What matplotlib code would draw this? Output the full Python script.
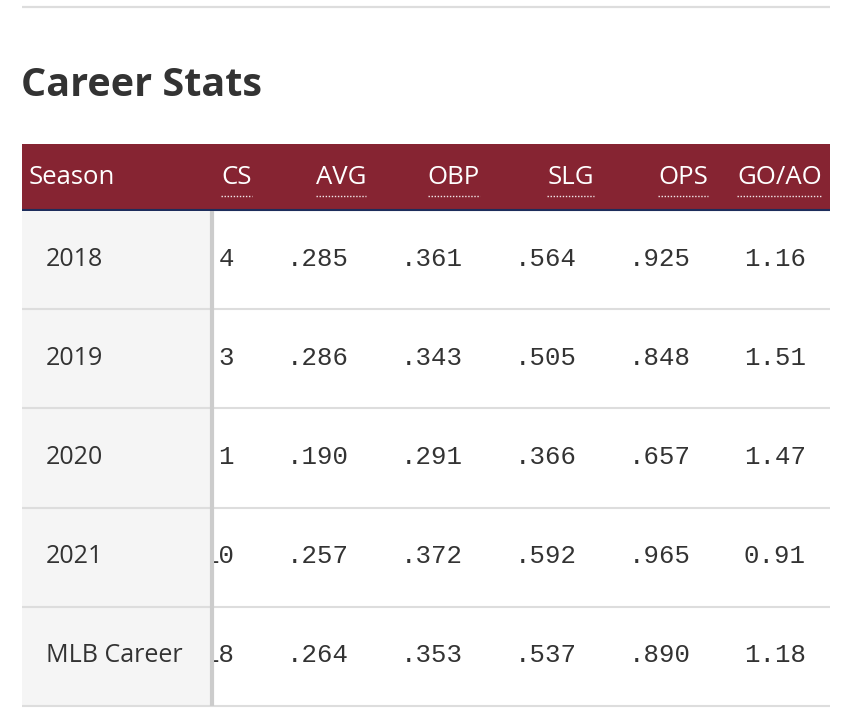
import matplotlib
matplotlib.use("Agg")
import matplotlib.pyplot as plt
from matplotlib.patches import Rectangle

title = "Career Stats"
columns = ["Season", "CS", "AVG", "OBP", "SLG", "OPS", "GO/AO"]
seasons = ["2018", "2019", "2020", "2021", "MLB Career"]
cs = ["4", "3", "1", "10", "18"]
avg = [".285", ".286", ".190", ".257", ".264"]
obp = [".361", ".343", ".291", ".372", ".353"]
slg = [".564", ".505", ".366", ".592", ".537"]
ops = [".925", ".848", ".657", ".965", ".890"]
goao = ["1.16", "1.51", "1.47", "0.91", "1.18"]

W, H = 850, 724
fig = plt.figure(figsize=(W / 100, H / 100), dpi=100)
ax = fig.add_axes([0, 0, 1, 1])
ax.set_xlim(0, W)
ax.set_ylim(H, 0)
ax.axis("off")

left, right = 22, 830
header_top, header_bot = 144, 210
row_h = 99.2
first_col_right = 211
text_col = "#333333"
header_col = "#862432"
sans = ["Open Sans", "DejaVu Sans"]
mono = ["Liberation Mono", "DejaVu Sans Mono"]

# top rule
ax.plot([left, right], [7, 7], color="#dddddd", lw=1.6, solid_capstyle="butt")

# title
ax.text(left - 1, 86, title, fontsize=28.5, fontweight="bold", color=text_col,
        family=sans, va="center", ha="left")

# header
ax.add_patch(Rectangle((left, header_top), right - left, header_bot - header_top,
                       facecolor=header_col, edgecolor="none"))
ax.plot([left, right], [header_bot, header_bot], color="#1d2d5c", lw=1.5,
        solid_capstyle="butt")

head_right = [None, 252, 366, 480, 594, 708, 822]
fig.canvas.draw()
renderer = fig.canvas.get_renderer()
inv = ax.transData.inverted()
for i, c in enumerate(columns):
    if i == 0:
        ax.text(29, 177, c, fontsize=18.5, color="white", family=sans,
                va="center", ha="left")
    else:
        t = ax.text(head_right[i], 177, c, fontsize=18.5, color="white",
                    family=sans, va="center", ha="right")
        bb = t.get_window_extent(renderer)
        x0 = inv.transform((bb.x0, 0))[0]
        x1 = inv.transform((bb.x1, 0))[0]
        ax.plot([x0, x1], [195.5, 195.5], color="white", lw=1.0,
                linestyle=(0, (1, 1.2)), alpha=0.9)

# body
n = len(seasons)
body_bot = header_bot + n * row_h
data_cols = [cs, avg, obp, slg, ops, goao]
data_right = [234, 349, 463, 577, 691, 806]
for r in range(n):
    yc = header_bot + (r + 0.5) * row_h - 1
    for j, col in enumerate(data_cols):
        ax.text(data_right[j], yc, col[r], fontsize=18.5, color=text_col,
                family=mono, va="center", ha="right", zorder=3)

# first (frozen) column drawn over the scrolled cells
ax.add_patch(Rectangle((left, header_bot + 1), first_col_right - left,
                       body_bot - header_bot - 1, facecolor="#f5f5f5",
                       edgecolor="none", zorder=4))
ax.plot([first_col_right + 1.5, first_col_right + 1.5],
        [header_bot + 1, body_bot], color="#cccccc", lw=3,
        solid_capstyle="butt", zorder=6)
for r in range(1, n + 1):
    y = header_bot + r * row_h
    ax.plot([left, right], [y, y], color="#dddddd", lw=1.5,
            solid_capstyle="butt", zorder=5)
for r in range(n):
    yc = header_bot + (r + 0.5) * row_h - 0.5
    ax.text(46, yc, seasons[r], fontsize=18, color=text_col, family=sans,
            va="center", ha="left", zorder=7)

fig.savefig("out.png", dpi=100, facecolor="white")
